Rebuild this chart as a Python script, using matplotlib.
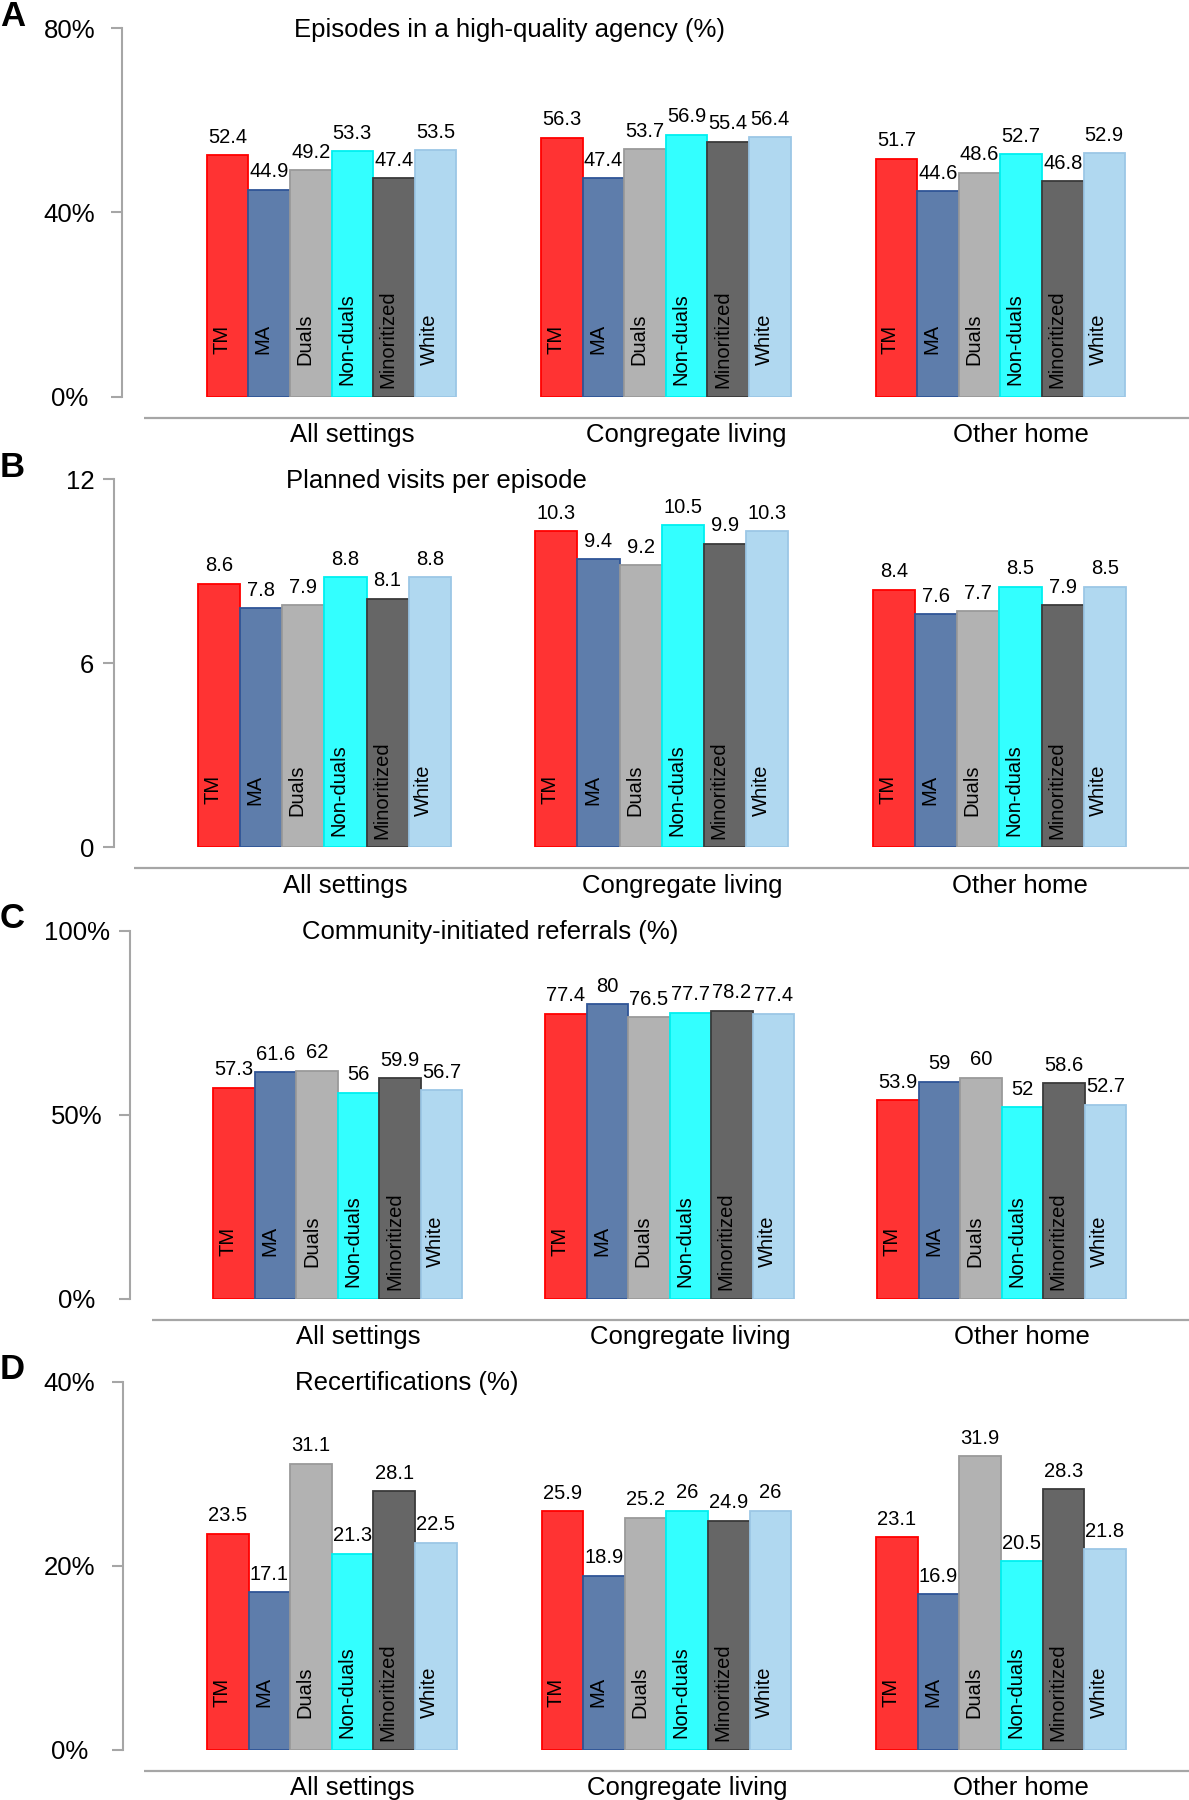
import matplotlib
matplotlib.use('Agg')
import matplotlib.pyplot as plt

plt.rcParams['font.family'] = ['Liberation Sans', 'DejaVu Sans']

# ---- data ----
settings = ['All settings', 'Congregate living', 'Other home']
groups = ['TM', 'MA', 'Duals', 'Non-duals', 'Minoritized', 'White']

quality_all = [52.4, 44.9, 49.2, 53.3, 47.4, 53.5]
quality_cong = [56.3, 47.4, 53.7, 56.9, 55.4, 56.4]
quality_other = [51.7, 44.6, 48.6, 52.7, 46.8, 52.9]

visits_all = [8.6, 7.8, 7.9, 8.8, 8.1, 8.8]
visits_cong = [10.3, 9.4, 9.2, 10.5, 9.9, 10.3]
visits_other = [8.4, 7.6, 7.7, 8.5, 7.9, 8.5]

referrals_all = [57.3, 61.6, 62, 56, 59.9, 56.7]
referrals_cong = [77.4, 80, 76.5, 77.7, 78.2, 77.4]
referrals_other = [53.9, 59, 60, 52, 58.6, 52.7]

recert_all = [23.5, 17.1, 31.1, 21.3, 28.1, 22.5]
recert_cong = [25.9, 18.9, 25.2, 26, 24.9, 26]
recert_other = [23.1, 16.9, 31.9, 20.5, 28.3, 21.8]

# ---- styling ----
FILLS = ['#FF3333', '#5E7DAB', '#B2B2B2', '#33FFFF', '#666666', '#B0D8F0']
EDGES = ['#FF0000', '#2F5597', '#9A9A9A', '#00F0F0', '#3A3A3A', '#9CC7E6']
GRAY = '#A6A6A6'

W, H = 1189, 1800
PLOT_H = 368.0
PX = 0.72  # points per pixel at dpi 100
BIG = 18.5
SMALL = 14.5

panels = [
    dict(letter='A', title='Episodes in a high-quality agency (%)',
         series=[quality_all, quality_cong, quality_other],
         ymax=80, ticks=[0, 40, 80], fmt='{:g}%',
         axis_x=122.0, top=28.5, g1=206.7, step=334.4, bw=41.6, line_x=144.0,
         centered=True, pad=29.8),
    dict(letter='B', title='Planned visits per episode',
         series=[visits_all, visits_cong, visits_other],
         ymax=12, ticks=[0, 6, 12], fmt='{:g}',
         axis_x=113.8, top=479.3, g1=197.7, step=337.5, bw=42.2, line_x=134.0,
         centered=False, pad=6.0),
    dict(letter='C', title='Community-initiated referrals (%)',
         series=[referrals_all, referrals_cong, referrals_other],
         ymax=100, ticks=[0, 50, 100], fmt='{:g}%',
         axis_x=130.3, top=930.7, g1=213.4, step=331.9, bw=41.5, line_x=151.7,
         centered=True, pad=30.3),
    dict(letter='D', title='Recertifications (%)',
         series=[recert_all, recert_cong, recert_other],
         ymax=40, ticks=[0, 20, 40], fmt='{:g}%',
         axis_x=122.6, top=1381.7, g1=206.9, step=334.6, bw=41.6, line_x=144.0,
         centered=True, pad=30.3),
]

fig = plt.figure(figsize=(W / 100, H / 100), dpi=100)
fig.patch.set_facecolor('white')

for p in panels:
    ax_x = p['axis_x']
    ax = fig.add_axes([ax_x / W, 1 - (p['top'] + PLOT_H) / H, (W - ax_x) / W, PLOT_H / H])
    ax.set_xlim(ax_x, W)
    ax.set_ylim(0, p['ymax'])
    ax.patch.set_alpha(0)

    for g, vals in enumerate(p['series']):
        for i, v in enumerate(vals):
            x0 = p['g1'] + g * p['step'] + i * p['bw']
            ax.bar(x0, v, width=p['bw'], align='edge', color=FILLS[i],
                   edgecolor=EDGES[i], linewidth=1.3)
            ax.annotate(f'{v:g}', xy=(x0 + p['bw'] / 2, v), xytext=(0, 12.5 * PX),
                        textcoords='offset points', ha='center', va='baseline',
                        fontsize=SMALL)
            ax.annotate(groups[i], xy=(x0, 0), xytext=(5.5 * PX, 57.5 * PX),
                        textcoords='offset points', rotation=90,
                        rotation_mode='anchor', ha='center', va='top',
                        fontsize=SMALL)
        # category label under the axis line
        cx = p['g1'] + g * p['step'] + 3 * p['bw'] + 20.5
        ax.text(cx, -(21 + 24.5) / PLOT_H, settings[g],
                transform=ax.get_xaxis_transform(), ha='center', va='baseline',
                fontsize=BIG)

    # horizontal category axis line
    ax.plot([p['line_x'], W], [-21 / PLOT_H] * 2, transform=ax.get_xaxis_transform(),
            color=GRAY, lw=1.6, clip_on=False, solid_capstyle='butt')

    # title inside the panel
    ax.text(ax_x + 172, 1 - 8.5 / PLOT_H, p['title'], transform=ax.get_xaxis_transform(),
            ha='left', va='baseline', fontsize=BIG)

    for s in ['top', 'right', 'bottom']:
        ax.spines[s].set_visible(False)
    ax.spines['left'].set_color(GRAY)
    ax.spines['left'].set_linewidth(1.5)
    ax.set_yticks(p['ticks'])
    ax.set_yticklabels([p['fmt'].format(t) for t in p['ticks']])
    ax.tick_params(axis='y', length=8, width=1.5, color=GRAY, labelsize=BIG,
                   pad=p['pad'])
    ax.tick_params(axis='x', bottom=False, labelbottom=False)
    if p['centered']:
        for lab in ax.get_yticklabels():
            lab.set_horizontalalignment('center')

    fig.text(0, 1 - (p['top'] - 2.5) / H, p['letter'], fontsize=25,
             fontweight='bold', ha='left', va='baseline')

fig.savefig('out.png', dpi=100, facecolor='white')
